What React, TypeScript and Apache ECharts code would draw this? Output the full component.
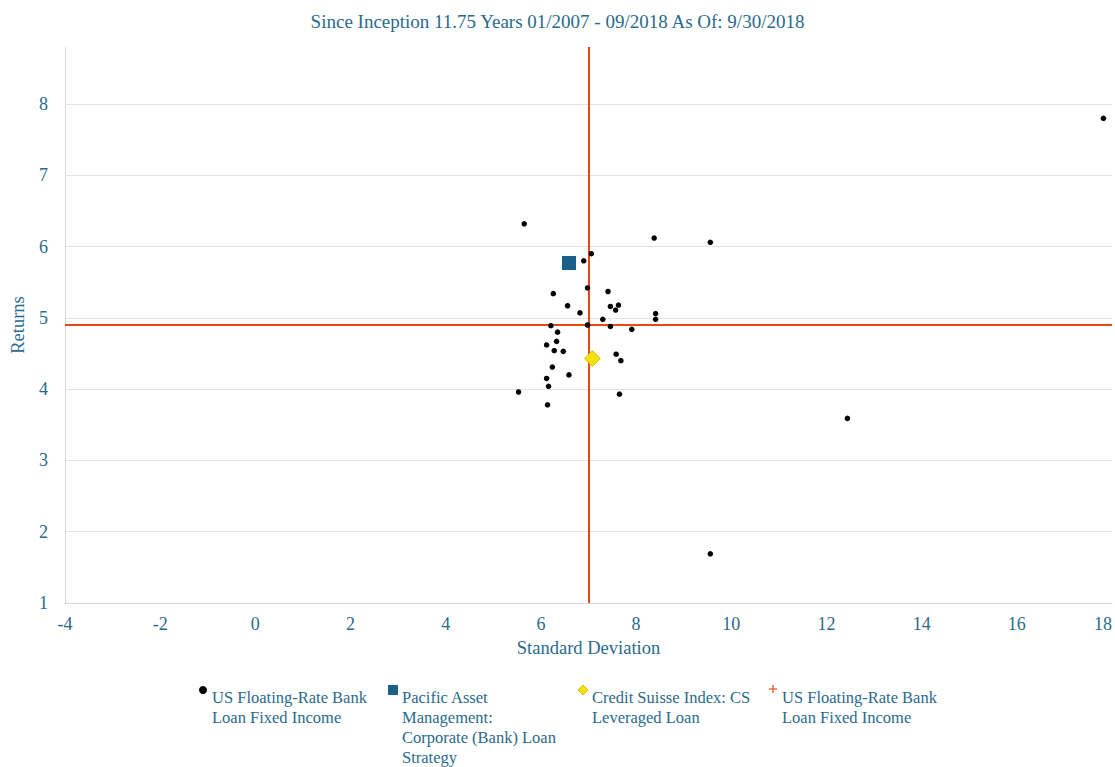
import React, { useEffect, useRef } from "react";
import * as echarts from "echarts";

const TITLE = "Since Inception 11.75 Years 01/2007 - 09/2018 As Of: 9/30/2018";
const X_NAME = "Standard Deviation";
const Y_NAME = "Returns";

// Peer group (US Floating-Rate Bank Loan Fixed Income) [std dev, return]
const peerPoints: [number, number][] = [
  [17.82, 7.8],
  [5.65, 6.32],
  [8.38, 6.12],
  [9.56, 6.06],
  [7.06, 5.9],
  [6.9, 5.8],
  [6.98, 5.42],
  [7.41, 5.37],
  [6.26, 5.34],
  [6.56, 5.17],
  [7.46, 5.16],
  [7.63, 5.18],
  [7.57, 5.11],
  [6.82, 5.07],
  [8.41, 5.06],
  [8.41, 4.98],
  [7.3, 4.98],
  [6.21, 4.89],
  [6.98, 4.9],
  [7.46, 4.88],
  [7.91, 4.84],
  [6.35, 4.8],
  [6.33, 4.67],
  [6.12, 4.62],
  [6.28, 4.54],
  [6.47, 4.53],
  [7.58, 4.49],
  [7.68, 4.4],
  [6.24, 4.31],
  [6.59, 4.2],
  [6.12, 4.15],
  [6.16, 4.04],
  [5.53, 3.96],
  [7.65, 3.93],
  [6.14, 3.78],
  [12.44, 3.59],
  [9.56, 1.69],
];

const productPoint: [number, number][] = [[6.59, 5.77]];
const indexPoint: [number, number][] = [[7.08, 4.43]];
const medianStdDev = 7.0;
const medianReturn = 4.9;

const legendLabels: string[][] = [
  ["US Floating-Rate Bank", "Loan Fixed Income"],
  ["Pacific Asset", "Management:", "Corporate (Bank) Loan", "Strategy"],
  ["Credit Suisse Index: CS", "Leveraged Loan"],
  ["US Floating-Rate Bank", "Loan Fixed Income"],
];

const TEXT = "#2a6a8c";
const FONT = "'Liberation Serif', 'Times New Roman', serif";
const RED = "#e8471c";
const BLUE = "#195f8a";
const YELLOW = "#f5e10f";

export default function App() {
  const ref = useRef<HTMLDivElement>(null);

  useEffect(() => {
    if (!ref.current) return;
    const chart = echarts.init(ref.current, undefined, { renderer: "svg" });

    const legendX = [203, 393, 583, 773];
    const legendGraphics: any[] = [];
    legendLabels.forEach((lines, i) => {
      legendGraphics.push({
        type: "text",
        left: legendX[i] + 9,
        top: 687,
        style: {
          text: lines.join("\n"),
          fill: TEXT,
          font: `16.5px ${FONT}`,
          lineHeight: 20,
        },
      });
    });
    legendGraphics.push({
      type: "circle",
      shape: { cx: legendX[0], cy: 690, r: 4 },
      style: { fill: "#000" },
    });
    legendGraphics.push({
      type: "rect",
      shape: { x: legendX[1] - 5, y: 685, width: 10, height: 10 },
      style: { fill: BLUE },
    });
    legendGraphics.push({
      type: "polygon",
      shape: {
        points: [
          [legendX[2], 685],
          [legendX[2] + 5, 690],
          [legendX[2], 695],
          [legendX[2] - 5, 690],
        ],
      },
      style: { fill: YELLOW, stroke: "#e0b800", lineWidth: 1 },
    });
    legendGraphics.push({
      type: "line",
      shape: { x1: legendX[3] - 4, y1: 689, x2: legendX[3] + 4, y2: 689 },
      style: { stroke: RED, lineWidth: 1.2 },
    });
    legendGraphics.push({
      type: "line",
      shape: { x1: legendX[3], y1: 685, x2: legendX[3], y2: 693 },
      style: { stroke: RED, lineWidth: 1.2 },
    });

    chart.setOption({
      animation: false,
      backgroundColor: "#ffffff",
      title: {
        text: TITLE,
        left: "center",
        top: 7,
        textStyle: {
          color: TEXT,
          fontFamily: FONT,
          fontSize: 19,
          fontWeight: "normal",
        },
      },
      grid: { left: 64, right: 3, top: 47, bottom: 164 },
      xAxis: {
        type: "value",
        min: -4,
        max: 18,
        interval: 2,
        name: X_NAME,
        nameLocation: "middle",
        nameGap: 35,
        nameTextStyle: { color: TEXT, fontFamily: FONT, fontSize: 18.5 },
        axisLine: { show: true, onZero: false, lineStyle: { color: "#d9d9d9" } },
        axisTick: { show: false },
        splitLine: { show: false },
        axisLabel: {
          color: TEXT,
          fontFamily: FONT,
          fontSize: 18,
          margin: 12,
          alignMaxLabel: "right",
        },
      },
      yAxis: {
        type: "value",
        min: 1,
        max: 8.8,
        interval: 1,
        name: Y_NAME,
        nameLocation: "middle",
        nameGap: 38,
        nameTextStyle: { color: TEXT, fontFamily: FONT, fontSize: 18.5 },
        axisLine: { show: true, onZero: false, lineStyle: { color: "#d9d9d9" } },
        axisTick: { show: false },
        splitLine: {
          show: true,
          showMaxLine: false,
          lineStyle: { color: "#e3e3e3" },
        },
        axisLabel: {
          color: TEXT,
          fontFamily: FONT,
          fontSize: 18,
          margin: 17,
          showMaxLabel: false,
          formatter: (v: number) => (Number.isInteger(v) ? String(v) : ""),
        },
      },
      graphic: legendGraphics,
      series: [
        {
          name: "US Floating-Rate Bank Loan Fixed Income (median)",
          type: "scatter",
          z: 1,
          data: [],
          markLine: {
            silent: true,
            z: 1,
            symbol: ["none", "none"],
            label: { show: false },
            lineStyle: { color: RED, width: 2, type: "solid", opacity: 1 },
            data: [{ xAxis: medianStdDev }, { yAxis: medianReturn }],
          },
        },
        {
          name: "US Floating-Rate Bank Loan Fixed Income",
          type: "scatter",
          z: 6,
          symbol: "circle",
          symbolSize: 5.5,
          itemStyle: { color: "#000000", opacity: 1 },
          data: peerPoints,
        },
        {
          name: "Pacific Asset Management: Corporate (Bank) Loan Strategy",
          type: "scatter",
          z: 7,
          symbol: "rect",
          symbolSize: 14,
          itemStyle: { color: BLUE, opacity: 1 },
          data: productPoint,
        },
        {
          name: "Credit Suisse Index: CS Leveraged Loan",
          type: "scatter",
          z: 7,
          symbol: "diamond",
          symbolSize: 16,
          itemStyle: {
            color: YELLOW,
            borderColor: "#e0b800",
            borderWidth: 1,
            opacity: 1,
          },
          data: indexPoint,
        },
      ],
    });

    return () => chart.dispose();
  }, []);

  return (
    <div
      ref={ref}
      style={{
        position: "absolute",
        left: 0,
        top: 0,
        width: 1115,
        height: 767,
        background: "#fff",
      }}
    />
  );
}
